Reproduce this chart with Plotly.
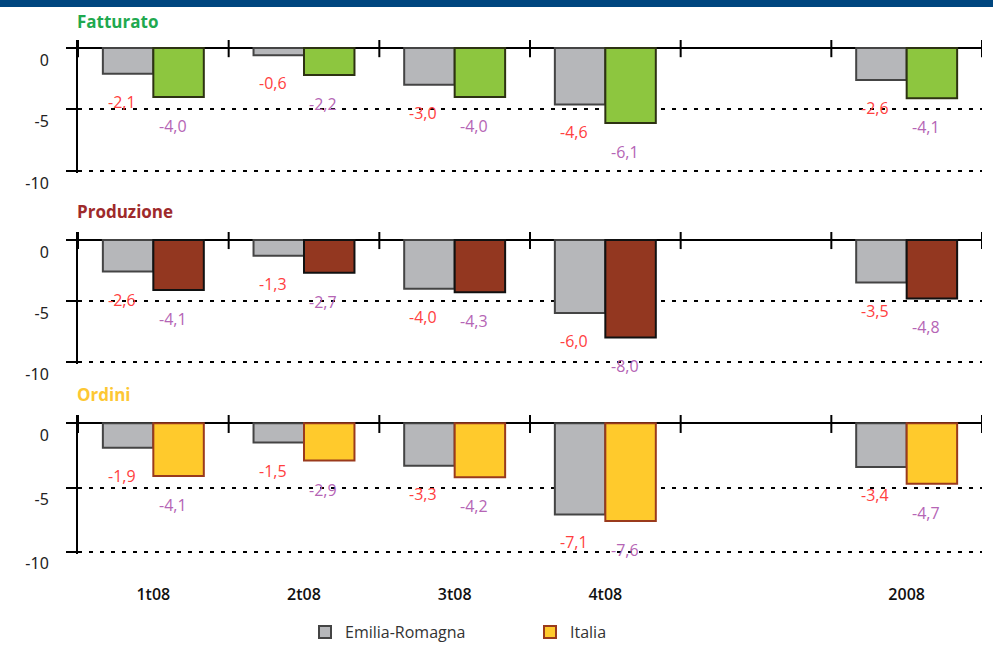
import plotly.graph_objects as go

categories = ["1t08", "2t08", "3t08", "4t08", "", "2008"]
panel_titles = ["Fatturato", "Produzione", "Ordini"]
emilia_fatturato = [-2.1, -0.6, -3.0, -4.6, None, -2.6]
italia_fatturato = [-4.0, -2.2, -4.0, -6.1, None, -4.1]
emilia_produzione = [-2.6, -1.3, -4.0, -6.0, None, -3.5]
italia_produzione = [-4.1, -2.7, -4.3, -8.0, None, -4.8]
emilia_ordini = [-1.9, -1.5, -3.3, -7.1, None, -3.4]
italia_ordini = [-4.1, -2.9, -4.2, -7.6, None, -4.7]
y_tick_vals = [0, -5, -10]
y_tick_text = ["0", "-5", "-10"]
series_names = ["Emilia-Romagna", "Italia"]

W, H = 993, 646
panels = [
    dict(em=emilia_fatturato, it=italia_fatturato, fill="#8dc63f", line="#2d3212",
         title_color="#1fa94f", top=40, bottom=173, title_y=22),
    dict(em=emilia_produzione, it=italia_produzione, fill="#933720", line="#111111",
         title_color="#9e2a2b", top=232, bottom=364, title_y=211),
    dict(em=emilia_ordini, it=italia_ordini, fill="#ffca2c", line="#9a3a1c",
         title_color="#fdc733", top=415, bottom=554, title_y=395),
]
gray_fill, gray_line = "#b6b7ba", "#444444"
red_lbl, purple_lbl = "#ff4040", "#b565b5"
bargap = 0.33
xs = list(range(len(categories)))
fmt = lambda v: f"{v:.1f}".replace(".", ",")

fig = go.Figure()
annotations = []
shapes = []
layout_axes = {}
for i, p in enumerate(panels, start=1):
    xa = "x" if i == 1 else f"x{i}"
    ya = "y" if i == 1 else f"y{i}"
    last = i == len(panels)
    fig.add_trace(go.Bar(x=xs, y=p["em"], name=series_names[0], xaxis=xa, yaxis=ya,
                         marker=dict(color=gray_fill, line=dict(color=gray_line, width=2)),
                         showlegend=last, legendrank=1))
    fig.add_trace(go.Bar(x=xs, y=p["it"], name=series_names[1], xaxis=xa, yaxis=ya,
                         marker=dict(color=p["fill"], line=dict(color=p["line"], width=2)),
                         showlegend=last, legendrank=2))
    w = (1 - bargap) / 2
    for xi, v in zip(xs, p["em"]):
        if v is not None:
            annotations.append(dict(x=xi - w / 2, y=v, xref=xa, yref=ya, text=fmt(v),
                                    showarrow=False, yshift=-28, xshift=-6,
                                    font=dict(color=red_lbl, size=16, family="Open Sans")))
    for xi, v in zip(xs, p["it"]):
        if v is not None:
            annotations.append(dict(x=xi + w / 2, y=v, xref=xa, yref=ya, text=fmt(v),
                                    showarrow=False, yshift=-29, xshift=-6,
                                    font=dict(color=purple_lbl, size=16, family="Open Sans")))
    for b in [k - 0.5 for k in range(len(categories) + 1)]:
        shapes.append(dict(type="line", xref=xa, yref=ya, x0=b, x1=b, y0=-0.75, y1=0.65,
                           line=dict(color="black", width=2), layer="above"))
    annotations.append(dict(x=75 / W, y=1 - p["title_y"] / H, xref="paper", yref="paper",
                            xanchor="left", yanchor="middle", showarrow=False,
                            text=f"<b>{panel_titles[i-1]}</b>",
                            font=dict(color=p["title_color"], size=17, family="Open Sans")))
    kx = "xaxis" if i == 1 else f"xaxis{i}"
    ky = "yaxis" if i == 1 else f"yaxis{i}"
    layout_axes[kx] = dict(domain=[78 / W, 982 / W], anchor=ya, range=[-0.5, len(categories) - 0.5],
                           showgrid=False, zeroline=False, showline=False, ticks="",
                           tickvals=xs, ticktext=categories, showticklabels=last,
                           ticklabelstandoff=29, automargin=False,
                           tickfont=dict(size=16, color="#111111", family="Open Sans", weight=600))
    layout_axes[ky] = dict(domain=[1 - p["bottom"] / H, 1 - p["top"] / H], anchor=xa,
                           range=[-10.18, 0.65], tickvals=y_tick_vals, ticktext=y_tick_text,
                           showline=True, linecolor="black", linewidth=2,
                           ticks="outside", ticklen=10, tickwidth=2, tickcolor="black",
                           showgrid=True, gridcolor="black", gridwidth=2, griddash="4px,7px",
                           zeroline=True, zerolinecolor="black", zerolinewidth=2,
                           ticklabelposition="outside bottom", ticklabelstandoff=24,
                           automargin=False,
                           tickfont=dict(size=16, color="#222222", family="Noto Sans"))

shapes.append(dict(type="rect", xref="paper", yref="paper", x0=0, x1=1, y0=1 - 7 / H, y1=1,
                   fillcolor="#00467f", line=dict(width=0), layer="above"))

fig.update_layout(
    width=W, height=H, margin=dict(l=0, r=0, t=0, b=0, autoexpand=False),
    paper_bgcolor="white", plot_bgcolor="white",
    barmode="group", bargap=bargap, bargroupgap=0,
    shapes=shapes, annotations=annotations,
    legend=dict(orientation="h", x=305 / W, y=-3 / H, xanchor="left", yanchor="bottom",
                entrywidth=180, entrywidthmode="pixels", traceorder="normal",
                font=dict(size=16, color="#333333", family="Open Sans")),
    **layout_axes,
)

fig.write_html("out.html", config={"displayModeBar": False},
               post_script="document.body.style.margin='0';")
